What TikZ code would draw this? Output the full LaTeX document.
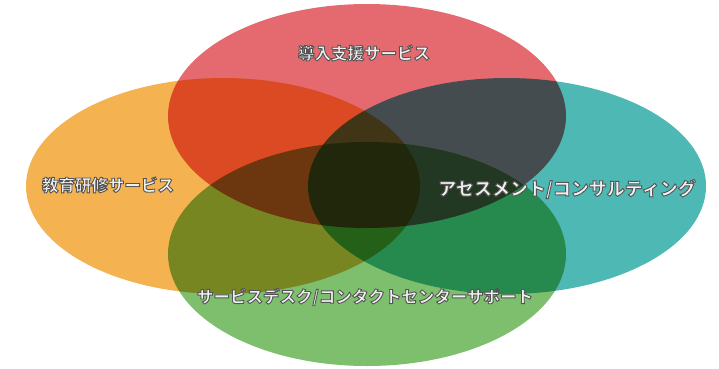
\documentclass[tikz,border=0pt]{standalone}
\usepackage{fontspec}
\newfontfamily\jp{Noto Sans CJK JP}
\definecolor{cRed}{HTML}{E56A70}
\definecolor{cOrange}{HTML}{F4B350}
\definecolor{cTeal}{HTML}{4DB8B4}
\definecolor{cGreen}{HTML}{7EBF6E}
\definecolor{txtC}{HTML}{F0F0F0}
\newcommand\halo[1]{%
  {\color{txtC}\special{pdf:literal direct 2 Tr 0.9 w 0.33 G}#1\special{pdf:literal direct 0 Tr}}}
\tikzset{
  lbl/.style={inner sep=0pt, font=\jp\bfseries\fontsize{16.5}{18}\selectfont}
}
\begin{document}
\begin{tikzpicture}[x=1pt,y=-1pt]
\useasboundingbox[fill=white] (0,0) rectangle (719,368);
\begin{scope}[blend group=multiply]
  \fill[cOrange] (223,186) ellipse [x radius=197, y radius=108];
  \fill[cTeal]   (507,186) ellipse [x radius=199, y radius=108];
  \fill[cRed]    (367,116) ellipse [x radius=199, y radius=112];
  \fill[cGreen]  (367,254) ellipse [x radius=199, y radius=112];
\end{scope}
\node[lbl] (top)    at (364,53)  {\halo{導入支援サービス}};
\node[lbl] (left)   at (108,185) {\halo{教育研修サービス}};
\node[lbl, font=\jp\bfseries\fontsize{18}{20}\selectfont] (right) at (567,189) {\halo{アセスメント/コンサルティング}};
\node[lbl] (bottom) at (365,297) {\halo{サービスデスク/コンタクトセンターサポート}};
\end{tikzpicture}
\end{document}
